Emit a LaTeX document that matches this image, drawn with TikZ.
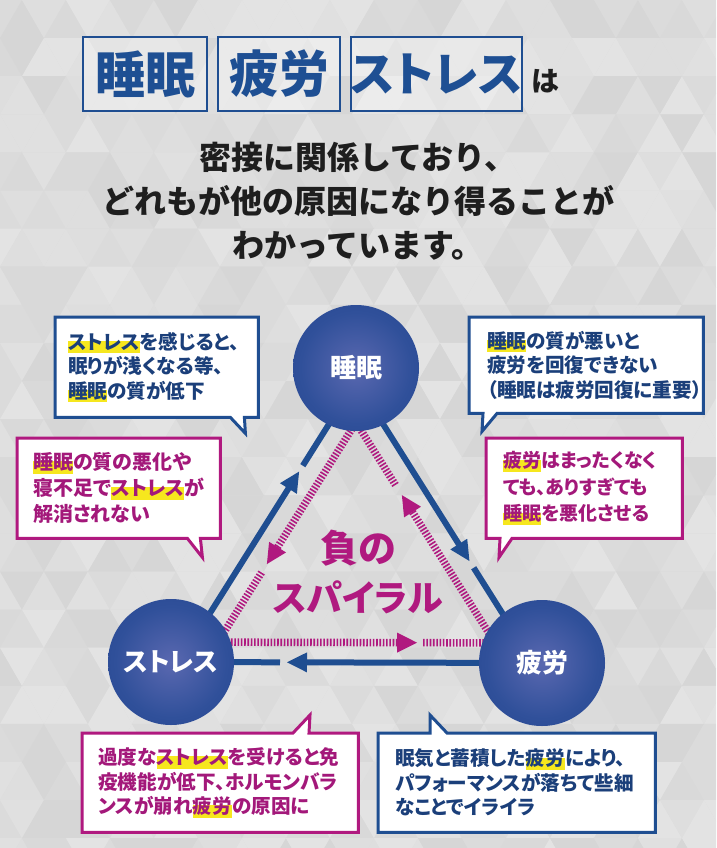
\documentclass[tikz,border=0pt]{standalone}
\usepackage{fontspec}
\newfontfamily\jp{Noto Sans CJK JP}[RawFeature=+palt]
\newfontfamily\jpf{Noto Sans CJK JP}
\usetikzlibrary{calc}
\definecolor{navy}{HTML}{1F4E91}
\definecolor{navytext}{HTML}{1B3F7A}
\definecolor{mag}{HTML}{B0197F}
\definecolor{magtext}{HTML}{A3187A}
\definecolor{hly}{HTML}{F6E71E}
\definecolor{ballin}{HTML}{5A68B0}
\definecolor{ballmid}{HTML}{30509A}
\definecolor{ballout}{HTML}{1B3D87}
\definecolor{subtxt}{HTML}{1E1E1E}
\definecolor{titletxt}{HTML}{1E4F93}
\pgfdeclareradialshading{navyball}{\pgfpoint{0bp}{0bp}}{color(0bp)=(ballin); color(22bp)=(ballmid); color(50bp)=(ballout)}
\pgfdeclarelayer{pattern}
\pgfdeclarelayer{lines}
\pgfdeclarelayer{boxes}
\pgfsetlayers{pattern,lines,boxes,main}
\newcommand\hlm[1]{\leavevmode\setbox0=\hbox{#1}\rlap{\color{hly}\rule[-0.2em]{\wd0}{0.62em}}\box0}
\newcommand\arrowtri[3]{\coordinate (atb) at ($(#3)!20pt!(#2)$);
  \fill[#1] (#3) -- ($(atb)!10pt!90:(#3)$) -- ($(atb)!10pt!-90:(#3)$) -- cycle;}
\tikzset{
 ball/.style={circle, minimum size=126pt, inner sep=0pt, shading=navyball, text=white, font=\jp\bfseries\fontsize{26}{26}\selectfont},
 blueln/.style={draw=navy, line width=6pt},
 hatch/.style={draw=mag, line width=7.5pt, dash pattern=on 1.6pt off 1.7pt},
 tbox/.style={draw=navy, line width=2.2pt, fill=white, fill opacity=0.35, text opacity=1, minimum height=74pt, inner sep=0pt, text=titletxt, font=\jp\bfseries\fontsize{50}{50}\selectfont},
 callout/.style={anchor=north west, inner ysep=0pt, align=left, font=\jp\bfseries\fontsize{19.6}{24.5}\selectfont},
 bluebox/.style={draw=navy, line width=3pt, fill=white, line join=miter},
 magbox/.style={draw=mag, line width=3pt, fill=white, line join=miter},
}
\begin{document}
\begin{tikzpicture}[x=1pt,y=-1pt]
\useasboundingbox (0,0) rectangle (716,848);
% background
\begin{pgfonlayer}{pattern}
\fill[black!14] (0,0) rectangle (716,848);
\begin{scope}
\clip (0,0) rectangle (716,848);
\pgfmathsetseed{11}
\foreach \r in {0,...,22}{
 \foreach \k in {-1,...,16}{
  \pgfmathsetmacro\xo{\k*44+mod(\r,2)*22}
  \pgfmathsetmacro\ya{\r*38.1}
  \pgfmathsetmacro\yb{\ya+38.1}
  \pgfmathrandominteger\sa{11}{16}
  \pgfmathrandominteger\sb{11}{16}
  \fill[black!\sa] (\xo,\yb) -- (\xo+44,\yb) -- (\xo+22,\ya) -- cycle;
  \fill[black!\sb] (\xo+22,\ya) -- (\xo+66,\ya) -- (\xo+44,\yb) -- cycle;
 }
}
\end{scope}
\end{pgfonlayer}

% title
\node[tbox, minimum width=124pt] (t1) at (145,74) {睡眠};
\node[tbox, minimum width=122pt] (t2) at (279,74) {疲労};
\node[tbox, minimum width=167pt, font=\jp\bfseries\fontsize{47}{47}\selectfont] (t3) at (436.5,74) {ストレス};
\node[font=\jp\bfseries\fontsize{28}{28}\selectfont, text=subtxt] (ha) at (545,81) {は};
\node[font=\jpf\bfseries\fontsize{32}{44}\selectfont, text=subtxt, align=center] (sub) at (358,201)
 {密接に関係しており、\\どれもが他の原因になり得ることが\\わかっています。};

% circles
\node[ball] (S) at (356,368) {睡眠};
\node[ball] (T) at (171,662) {ストレス};
\node[ball] (F) at (542,663) {疲労};

\node[font=\jp\bfseries\fontsize{38}{38}\selectfont, text=mag] (neg1) at (358,548) {負の};
\node[font=\jp\bfseries\fontsize{36}{36}\selectfont, text=mag] (neg2) at (358,597) {スパイラル};

\begin{pgfonlayer}{lines}
% left side T-S
\coordinate (bl1) at ($(T.center)!7pt!-90:(S.center)$);
\coordinate (bl2) at ($(S.center)!7pt!90:(T.center)$);
\coordinate (blt) at ($(bl2)!118pt!(bl1)$);
\draw[blueln] ($(bl1)!50pt!(bl2)$) -- ($(blt)!19pt!(bl1)$);
\arrowtri{navy}{bl1}{blt}
\draw[blueln] ($(bl2)!111pt!(bl1)$) -- ($(bl2)!50pt!(bl1)$);
\coordinate (ml1) at ($(T.center)!29pt!-90:(S.center)$);
\coordinate (ml2) at ($(S.center)!29pt!90:(T.center)$);
\coordinate (mlt) at ($(ml1)!134pt!(ml2)$);
\draw[hatch] ($(ml2)!50pt!(ml1)$) -- ($(mlt)!19pt!(ml2)$);
\arrowtri{mag}{ml2}{mlt}
\draw[hatch] ($(ml1)!124pt!(ml2)$) -- ($(ml1)!50pt!(ml2)$);
% right side S-F
\coordinate (br1) at ($(S.center)!7pt!-90:(F.center)$);
\coordinate (br2) at ($(F.center)!7pt!90:(S.center)$);
\coordinate (brt) at ($(br2)!125pt!(br1)$);
\draw[blueln] ($(br1)!50pt!(br2)$) -- ($(brt)!19pt!(br1)$);
\arrowtri{navy}{br1}{brt}
\draw[blueln] ($(br2)!117pt!(br1)$) -- ($(br2)!50pt!(br1)$);
\coordinate (mr1) at ($(S.center)!29pt!-90:(F.center)$);
\coordinate (mr2) at ($(F.center)!29pt!90:(S.center)$);
\coordinate (mrt) at ($(mr1)!132pt!(mr2)$);
\draw[hatch] ($(mr2)!50pt!(mr1)$) -- ($(mrt)!19pt!(mr2)$);
\arrowtri{mag}{mr2}{mrt}
\draw[hatch] ($(mr1)!120pt!(mr2)$) -- ($(mr1)!50pt!(mr2)$);
% bottom F-T
\coordinate (bbt) at ($(T.center)!116pt!(F.center)$);
\draw[blueln] ($(F.center)!50pt!(T.center)$) -- ($(bbt)!19pt!(F.center)$);
\arrowtri{navy}{F.center}{bbt}
\draw[blueln] ($(T.center)!109pt!(F.center)$) -- ($(T.center)!50pt!(F.center)$);
\coordinate (mb1) at ($(F.center)!20pt!-90:(T.center)$);
\coordinate (mb2) at ($(T.center)!20pt!90:(F.center)$);
\coordinate (mbt) at ($(mb1)!125pt!(mb2)$);
\draw[hatch] ($(mb2)!50pt!(mb1)$) -- ($(mbt)!19pt!(mb2)$);
\arrowtri{mag}{mb2}{mbt}
\draw[hatch] ($(mb1)!119pt!(mb2)$) -- ($(mb1)!50pt!(mb2)$);
\end{pgfonlayer}

% callouts
\node[callout, text=navytext, inner xsep=13pt, text width=177pt, minimum height=100pt] (c1) at (55,317)
 {\hlm{ストレス}を感じると、\\眠りが浅くなる等、\\\hlm{睡眠}の質が低下};
\node[callout, text=navytext, inner xsep=18pt, text width=198pt, minimum height=96pt] (c2) at (469,317)
 {\hlm{睡眠}の質が悪いと\\疲労を回復できない\\（睡眠は疲労回復に重要）};
\node[callout, text=magtext, inner xsep=16pt, text width=171pt, minimum height=100pt, font=\jp\bfseries\fontsize{20}{26}\selectfont] (c3) at (17,438)
 {\hlm{睡眠}の質の悪化や\\寝不足で\hlm{ストレス}が\\解消されない};
\node[callout, text=magtext, inner xsep=17pt, text width=162pt, minimum height=100pt, font=\jp\bfseries\fontsize{19}{26.5}\selectfont] (c4) at (486,438)
 {\hlm{疲労}はまったくなく\\ても、ありすぎても\\\hlm{睡眠}を悪化させる};
\node[callout, text=magtext, inner xsep=16pt, text width=244pt, minimum height=99pt] (c5) at (82,733)
 {過度な\hlm{ストレス}を受けると免\\疫機能が低下、ホルモンバラ\\ンスが崩れ\hlm{疲労}の原因に};
\node[callout, text=navytext, inner xsep=17pt, text width=243pt, minimum height=99pt] (c6) at (378,733)
 {眠気と蓄積した\hlm{疲労}により、\\パフォーマンスが落ちて些細\\なことでイライラ};

\begin{pgfonlayer}{boxes}
\draw[bluebox] (c1.north west) -- (c1.north east) -- (c1.south east) -- ($(c1.south east)+(-14,0)$) -- ($(c1.south east)+(-13,16)$) -- ($(c1.south east)+(-28,0)$) -- (c1.south west) -- cycle;
\draw[bluebox] (c2.north west) -- (c2.north east) -- (c2.south east) -- ($(c2.south west)+(28,0)$) -- ($(c2.south west)+(13,18)$) -- ($(c2.south west)+(14,0)$) -- (c2.south west) -- cycle;
\draw[magbox] (c3.north west) -- (c3.north east) -- (c3.south east) -- ($(c3.south east)+(-20,0)$) -- ($(c3.south east)+(-18,19)$) -- ($(c3.south east)+(-33,0)$) -- (c3.south west) -- cycle;
\draw[magbox] (c4.north west) -- (c4.north east) -- (c4.south east) -- ($(c4.south west)+(26,0)$) -- ($(c4.south west)+(13,19)$) -- ($(c4.south west)+(14,0)$) -- (c4.south west) -- cycle;
\draw[magbox] (c5.north west) -- ($(c5.north west)+(211,0)$) -- ($(c5.north west)+(228,-18)$) -- ($(c5.north west)+(227,0)$) -- (c5.north east) -- (c5.south east) -- (c5.south west) -- cycle;
\draw[bluebox] (c6.north west) -- ($(c6.north west)+(52,0)$) -- ($(c6.north west)+(52,-18)$) -- ($(c6.north west)+(69,0)$) -- (c6.north east) -- (c6.south east) -- (c6.south west) -- cycle;
\end{pgfonlayer}
\end{tikzpicture}
\end{document}
